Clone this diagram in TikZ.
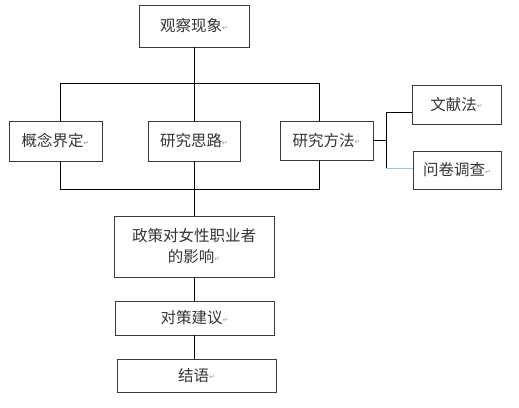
\documentclass[tikz,border=0pt]{standalone}
\usepackage{fontspec}
\newfontfamily\cjk{Noto Sans CJK SC}
\newfontfamily\dejavu{DejaVu Sans}
\newcommand\retmark{\raisebox{1.5pt}{\dejavu\fontsize{7}{8}\selectfont\color{gray!80}↵}}
\definecolor{txt}{HTML}{333333}
\definecolor{edge}{HTML}{3A3A3A}
\definecolor{lblue}{HTML}{9DC3E6}
\begin{document}
\begin{tikzpicture}[x=1pt,y=-1pt,
  box/.style={draw=edge,line width=0.9pt,rectangle,inner sep=0pt,text=txt,
    font=\cjk\fontsize{15.5}{21}\selectfont,align=center},
  conn/.style={draw=black,line width=0.9pt}]
\useasboundingbox (0,0) rectangle (519,407);
\node[box,minimum width=110,minimum height=42] (top) at (194,26) {观察现象\retmark};
\node[box,minimum width=93,minimum height=40] (gn) at (55.5,141) {概念界定\retmark};
\node[box,minimum width=92,minimum height=40] (sl) at (194,141) {研究思路\retmark};
\node[box,minimum width=93,minimum height=39] (ff) at (326.5,140.5) {研究方法\retmark};
\node[box,minimum width=89,minimum height=39] (wx) at (456.5,104.5) {文献法\retmark};
\node[box,minimum width=88,minimum height=38] (wj) at (457,170) {问卷调查\retmark};
\node[box,minimum width=160,minimum height=61] (zc) at (194,246.5) {政策对女性职业者\\的影响\retmark};
\node[box,minimum width=159,minimum height=34] (dc) at (194.5,318) {对策建议\retmark};
\node[box,minimum width=159,minimum height=33] (jy) at (196.5,375.5) {结语\retmark};
\coordinate (b1) at (60,83);
\coordinate (b2) at (319,83);
\coordinate (c1) at (60,189);
\coordinate (c2) at (319,189);
\coordinate (r1) at (386,112);
\coordinate (r2) at (386,168);
\draw[conn] (top.south) -- (top.south |- sl.north);
\draw[conn] (b1 |- gn.north) -- (b1) -- (b2) -- (b2 |- ff.north);
\draw[conn] (b1 |- gn.south) -- (c1) -- (c2) -- (c2 |- ff.south);
\draw[conn] (sl.south) -- (sl.south |- zc.north);
\draw[conn] (zc.south) -- (zc.south |- dc.north);
\draw[conn] (zc.south |- dc.south) -- (zc.south |- jy.north);
\draw[conn] (ff.east) -- (ff.east -| r1);
\draw[conn] (r1 -| wx.west) -- (r1) -- (r2);
\draw[draw=lblue,line width=0.9pt] (r2) -- (r2 -| wj.west);
\end{tikzpicture}
\end{document}
